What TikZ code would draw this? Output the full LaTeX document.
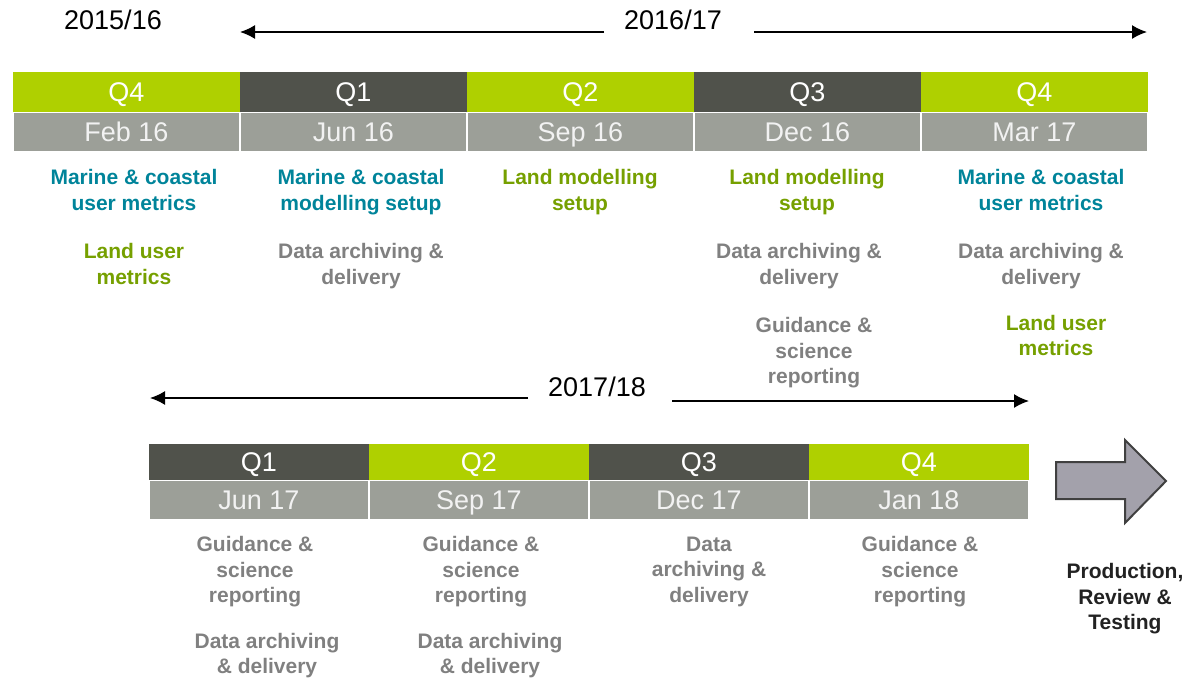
\documentclass[tikz,border=0pt]{standalone}
\usepackage{fontspec}
\setmainfont{Liberation Sans}
\usetikzlibrary{matrix,arrows.meta}

\definecolor{qgreen}{HTML}{AFD000}
\definecolor{qdark}{HTML}{50524B}
\definecolor{qdate}{HTML}{9C9F98}
\definecolor{qtext}{HTML}{F2F2F2}
\definecolor{marine}{HTML}{00849A}
\definecolor{land}{HTML}{76A000}
\definecolor{admin}{HTML}{808080}
\definecolor{prodtext}{HTML}{222222}
\definecolor{bigarrow}{HTML}{A3A1AB}

\begin{document}
\begin{tikzpicture}[x=1pt,y=-1pt,
		bars/.style={matrix of nodes,anchor=north west,inner sep=0pt,outer sep=0pt,column sep=0pt,row sep=0pt,
			nodes={inner sep=0pt,outer sep=0pt,line width=1pt,text=white,text height=19.4pt,text depth=0pt,font=\fontsize{27}{32}\selectfont},
			row 2/.style={nodes={fill=qdate,draw=white,text=qtext}}},
		qg/.style={fill=qgreen,draw=qgreen},
		qd/.style={fill=qdark,draw=qdark},
		item/.style={anchor=north,inner sep=0pt,align=center,font=\bfseries\fontsize{21}{25.5}\selectfont},
		year/.style={inner sep=0pt,text height=19.4pt,text depth=0pt,font=\fontsize{27}{32}\selectfont},
		yarrow/.style={-{Latex[length=15pt,width=14pt]},line width=1.6pt}]
	\useasboundingbox (0,0) rectangle (1194,678);

	% 2015/16 and 2016/17
	\node[year] (y1516) at (113,19.5) {2015/16};
	\node[year] (y1617) at (673,19.5) {2016/17};
	\coordinate (t1l) at (240,32);
	\coordinate (t1r) at (1147,32);
	\draw[yarrow] (y1617.west |- t1l) ++(-20,0) -- (t1l);
	\draw[yarrow] (y1617.east |- t1r) ++(32,0) -- (t1r);

	\matrix[bars,nodes={minimum width=226pt,minimum height=39pt}] (top) at (13,72) {
		|[qg]| Q4 & |[qd]| Q1 & |[qg]| Q2 & |[qd]| Q3 & |[qg]| Q4 \\
		Feb 16 & Jun 16 & Sep 16 & Dec 16 & Mar 17 \\
	};

	\node[item,marine] (mc1) at (134,169.5) {Marine \& coastal\\user metrics};
	\node[item,land] (lu1) at (134,243.5) {Land user\\metrics};
	\node[item,marine] (mc2) at (361,169.5) {Marine \& coastal\\modelling setup};
	\node[item,admin] (da2) at (361,243.5) {Data archiving \&\\delivery};
	\node[item,land] (lm3) at (580,169.5) {Land modelling\\setup};
	\node[item,land] (lm4) at (807,169.5) {Land modelling\\setup};
	\node[item,admin] (da4) at (799,243.5) {Data archiving \&\\delivery};
	\node[item,admin] (gs4) at (814,317.5) {Guidance \&\\science\\reporting};
	\node[item,marine] (mc5) at (1041,169.5) {Marine \& coastal\\user metrics};
	\node[item,admin] (da5) at (1041,243.5) {Data archiving \&\\delivery};
	\node[item,land] (lu5) at (1056,315) {Land user\\metrics};

	% 2017/18
	\node[year] (y1718) at (597,387) {2017/18};
	\coordinate (t2l) at (150,398);
	\coordinate (t2r) at (1029,401);
	\draw[yarrow] (y1718.west |- t2l) ++(-20,0) -- (t2l);
	\draw[yarrow] (y1718.east |- t2r) ++(26,0) -- (t2r);

	\matrix[bars,nodes={minimum width=219pt,minimum height=38.5pt},row 1/.style={nodes={minimum height=35pt}}] (bot) at (149,444) {
		|[qd]| Q1 & |[qg]| Q2 & |[qd]| Q3 & |[qg]| Q4 \\
		Jun 17 & Sep 17 & Dec 17 & Jan 18 \\
	};

	\node[item,admin] (gs6) at (255,536.5) {Guidance \&\\science\\reporting};
	\node[item,admin] (da6) at (267,633) {Data archiving\\\& delivery};
	\node[item,admin] (gs7) at (481,536.5) {Guidance \&\\science\\reporting};
	\node[item,admin] (da7) at (490,633) {Data archiving\\\& delivery};
	\node[item,admin] (da8) at (709,536.5) {Data\\archiving \&\\delivery};
	\node[item,admin] (gs9) at (920,536.5) {Guidance \&\\science\\reporting};

	\draw[fill=bigarrow,draw=black!75,line width=2pt,line join=miter]
		(1056,462) -- (1125,462) -- (1125,440) -- (1166,481) -- (1125,523) -- (1125,499) -- (1056,499) -- cycle;
	\node[item,prodtext] (prod) at (1125,563.5) {Production,\\Review \&\\Testing};
\end{tikzpicture}
\end{document}
